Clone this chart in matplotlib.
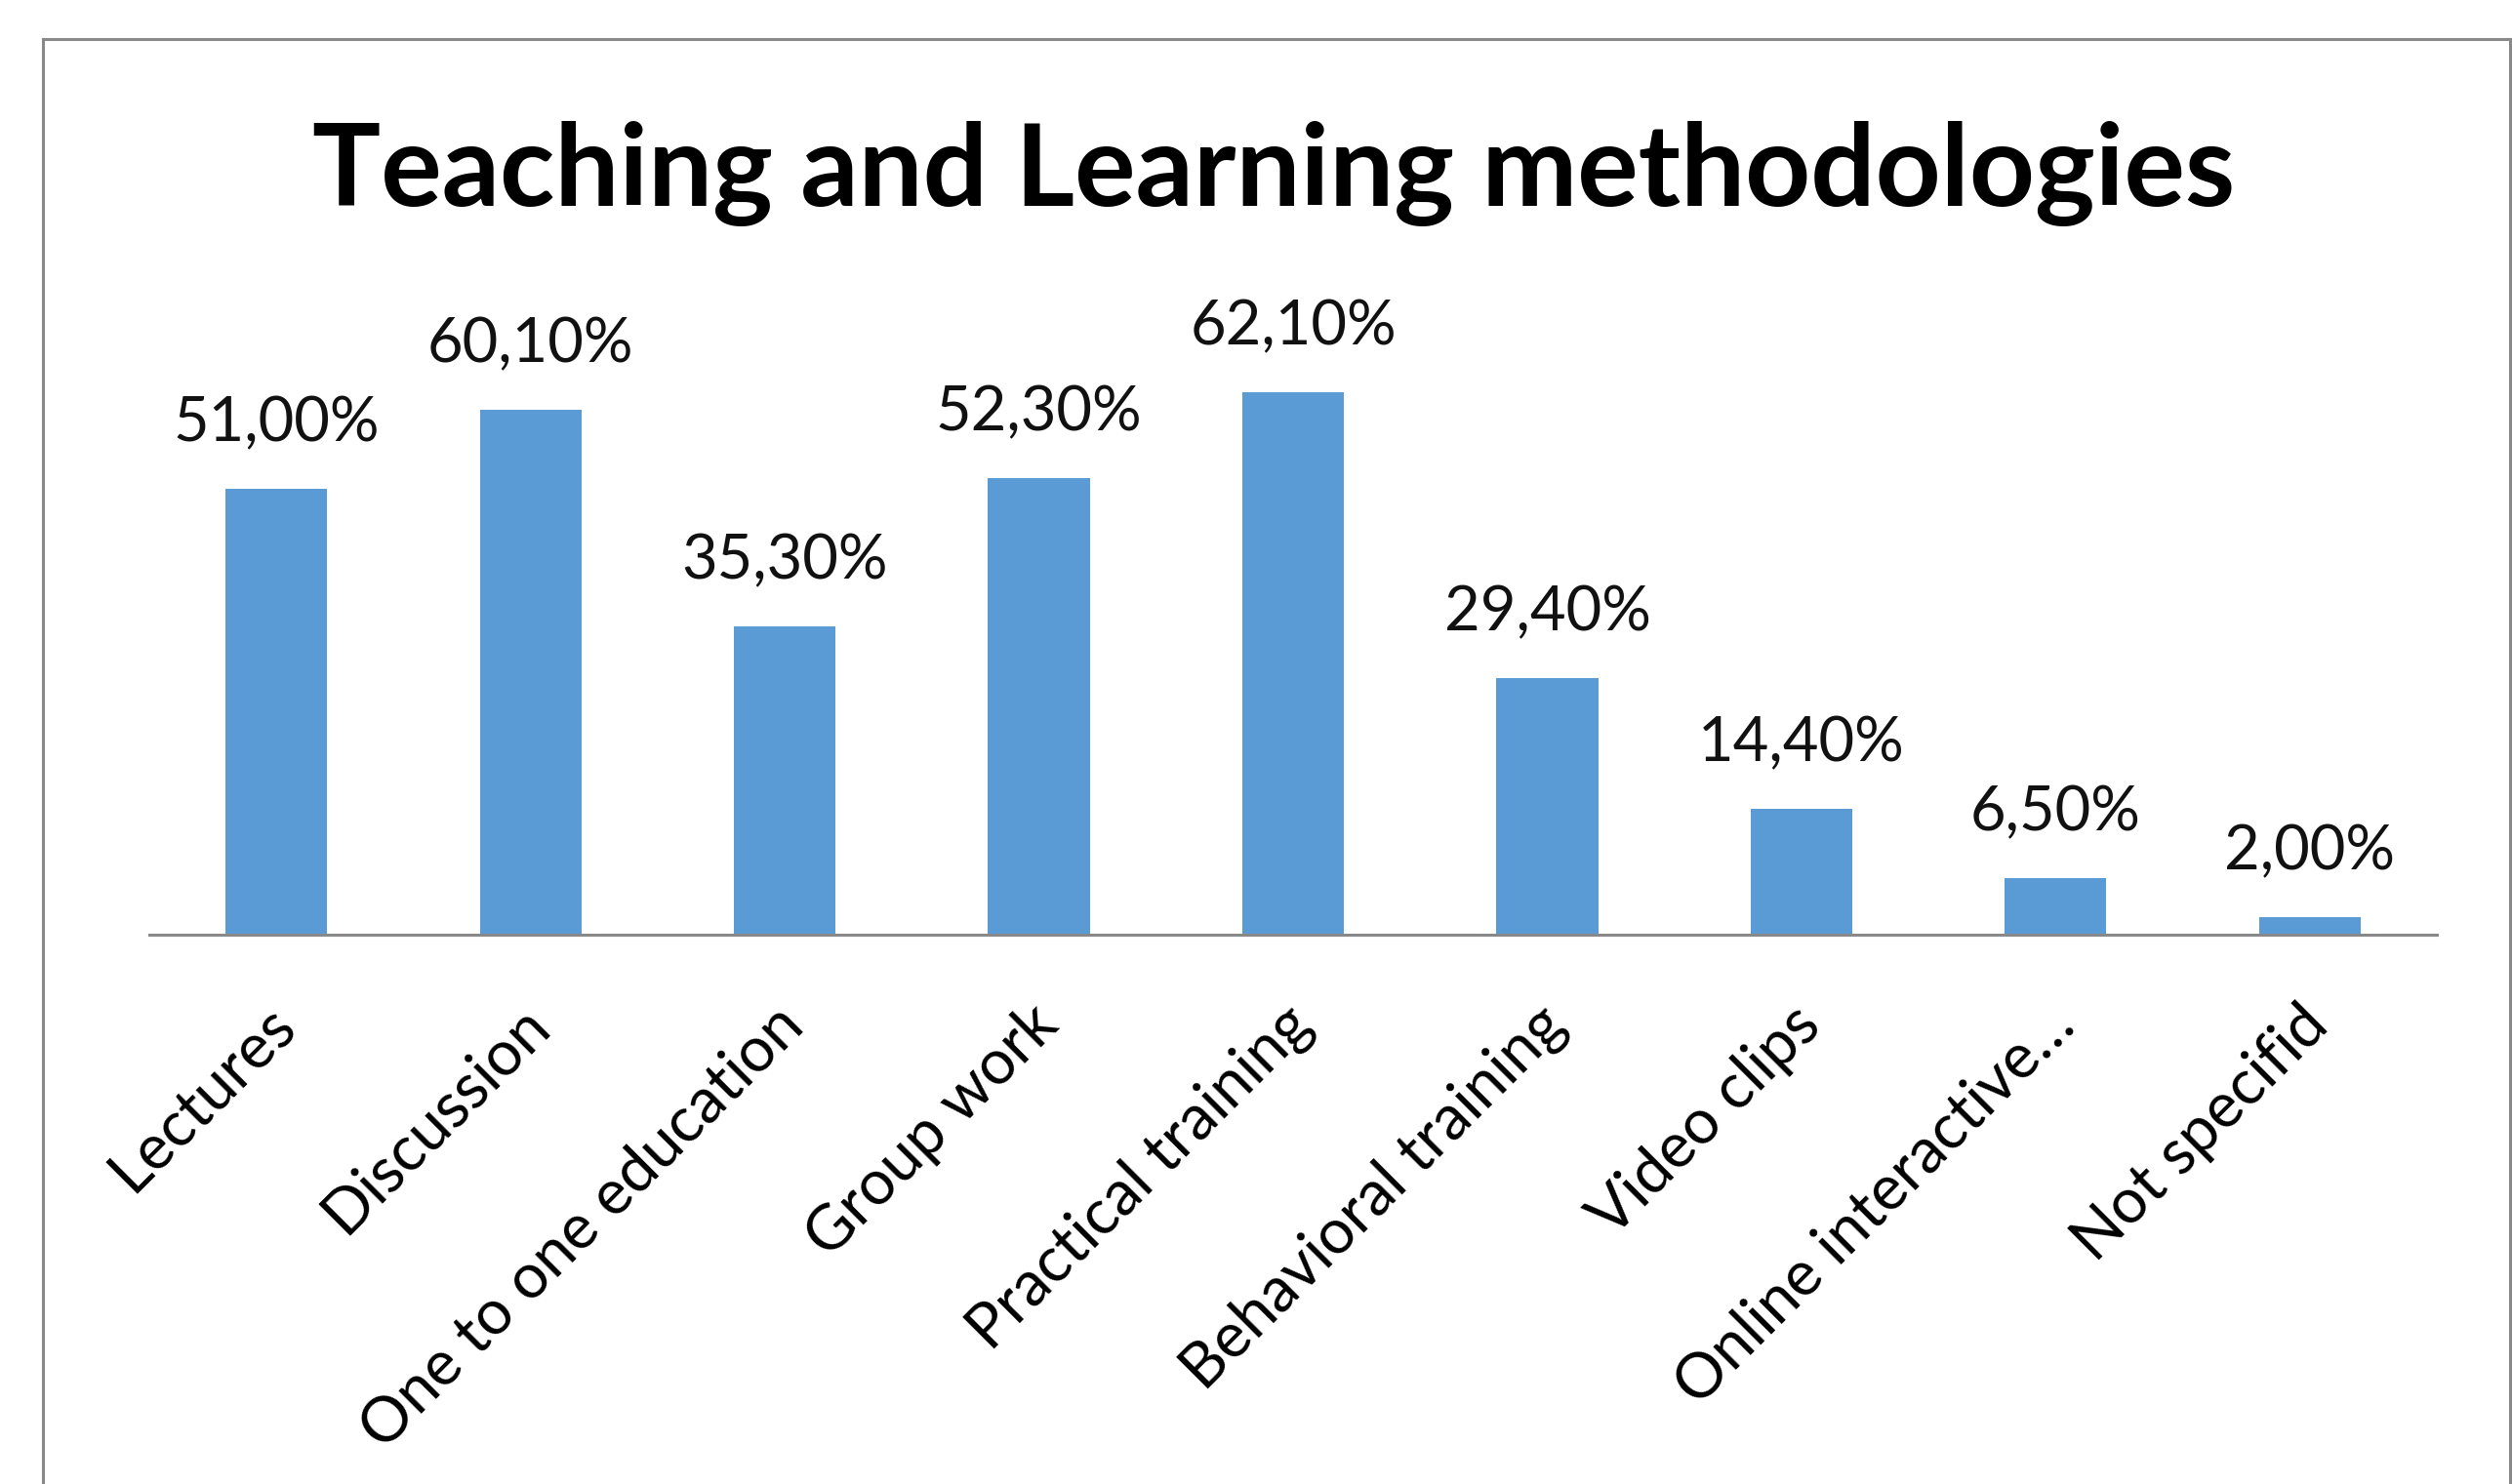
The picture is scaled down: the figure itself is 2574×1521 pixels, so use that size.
import matplotlib
matplotlib.use('Agg')
import matplotlib.pyplot as plt
from matplotlib.lines import Line2D
import numpy as np

# ---- data ----
categories = ["Lectures", "Discussion", "One to one education", "Group work",
              "Practical training", "Behavioral training", "Video clips",
              "Online interactive…", "Not specifid"]
values = [51.0, 60.1, 35.3, 52.3, 62.1, 29.4, 14.4, 6.5, 2.0]
value_labels = ["51,00%", "60,10%", "35,30%", "52,30%", "62,10%",
                "29,40%", "14,40%", "6,50%", "2,00%"]
title = "Teaching and Learning methodologies"

# ---- layout (pixels) ----
W, H, DPI = 2574, 1521, 100
FONT = 'Lato'
plt.rcParams['font.family'] = [FONT, 'DejaVu Sans']

fig = plt.figure(figsize=(W / DPI, H / DPI), dpi=DPI)
fig.patch.set_facecolor('white')
renderer = fig.canvas.get_renderer()

ax_left, ax_right = 153, 2497
base_y = 958
ymax = 70
px_per = 8.955
ax_top = base_y - ymax * px_per
ax = fig.add_axes([ax_left / W, (H - base_y) / H,
                   (ax_right - ax_left) / W, (base_y - ax_top) / H])
ax.set_facecolor('none')

x = np.arange(len(categories))
ax.bar(x, values, width=0.4, color='#5B9BD5', zorder=2)
ax.set_xlim(-0.5, len(categories) - 0.5)
ax.set_ylim(0, ymax)
for s in ['top', 'right', 'left']:
    ax.spines[s].set_visible(False)
ax.spines['bottom'].set_color('#898989')
ax.spines['bottom'].set_linewidth(2.2)
ax.spines['bottom'].set_zorder(3)
ax.set_yticks([])


def fitted_size(text, target_w, weight='normal'):
    t = fig.text(0, 0, text, fontsize=50, fontweight=weight)
    bb = t.get_window_extent(renderer)
    size = 50 * target_w / bb.width
    t.remove()
    return size


label_size = fitted_size("51,00%", 212)
tick_size = fitted_size("One to one education", 612)
title_size = fitted_size(title, 1976, 'bold')

ax.set_xticks(x)
ax.set_xticklabels([])
ax.tick_params(axis='x', length=0)

# category labels, rotated 45 degrees, ending under each bar
for xi, cat in zip(x, categories):
    ax.annotate(cat, (xi, 0), xytext=(-8, -45), textcoords='offset points',
                rotation=45, rotation_mode='anchor', ha='right', va='top',
                fontsize=tick_size, color='black', annotation_clip=False)

for xi, v, lab in zip(x, values, value_labels):
    ax.annotate(lab, (xi, v), xytext=(0, 35), textcoords='offset points',
                ha='center', va='baseline', fontsize=label_size,
                color='#111111', annotation_clip=False)

fig.text(1305 / W, 1 - 211 / H, title, ha='center', va='baseline',
         fontsize=title_size, fontweight='bold', color='black')

# chart border (bottom edge is cropped in the original)
bc = '#898989'
lw = 2.2
fig.add_artist(Line2D([43.5 / W, 43.5 / W], [1 - 39.5 / H, -0.01],
                      transform=fig.transFigure, color=bc, lw=lw))
fig.add_artist(Line2D([43.5 / W, 2571.5 / W], [1 - 39.5 / H, 1 - 39.5 / H],
                      transform=fig.transFigure, color=bc, lw=lw))
fig.add_artist(Line2D([2571.5 / W, 2571.5 / W], [1 - 39.5 / H, -0.01],
                      transform=fig.transFigure, color=bc, lw=lw))

fig.savefig('out.png', dpi=DPI, facecolor='white')
